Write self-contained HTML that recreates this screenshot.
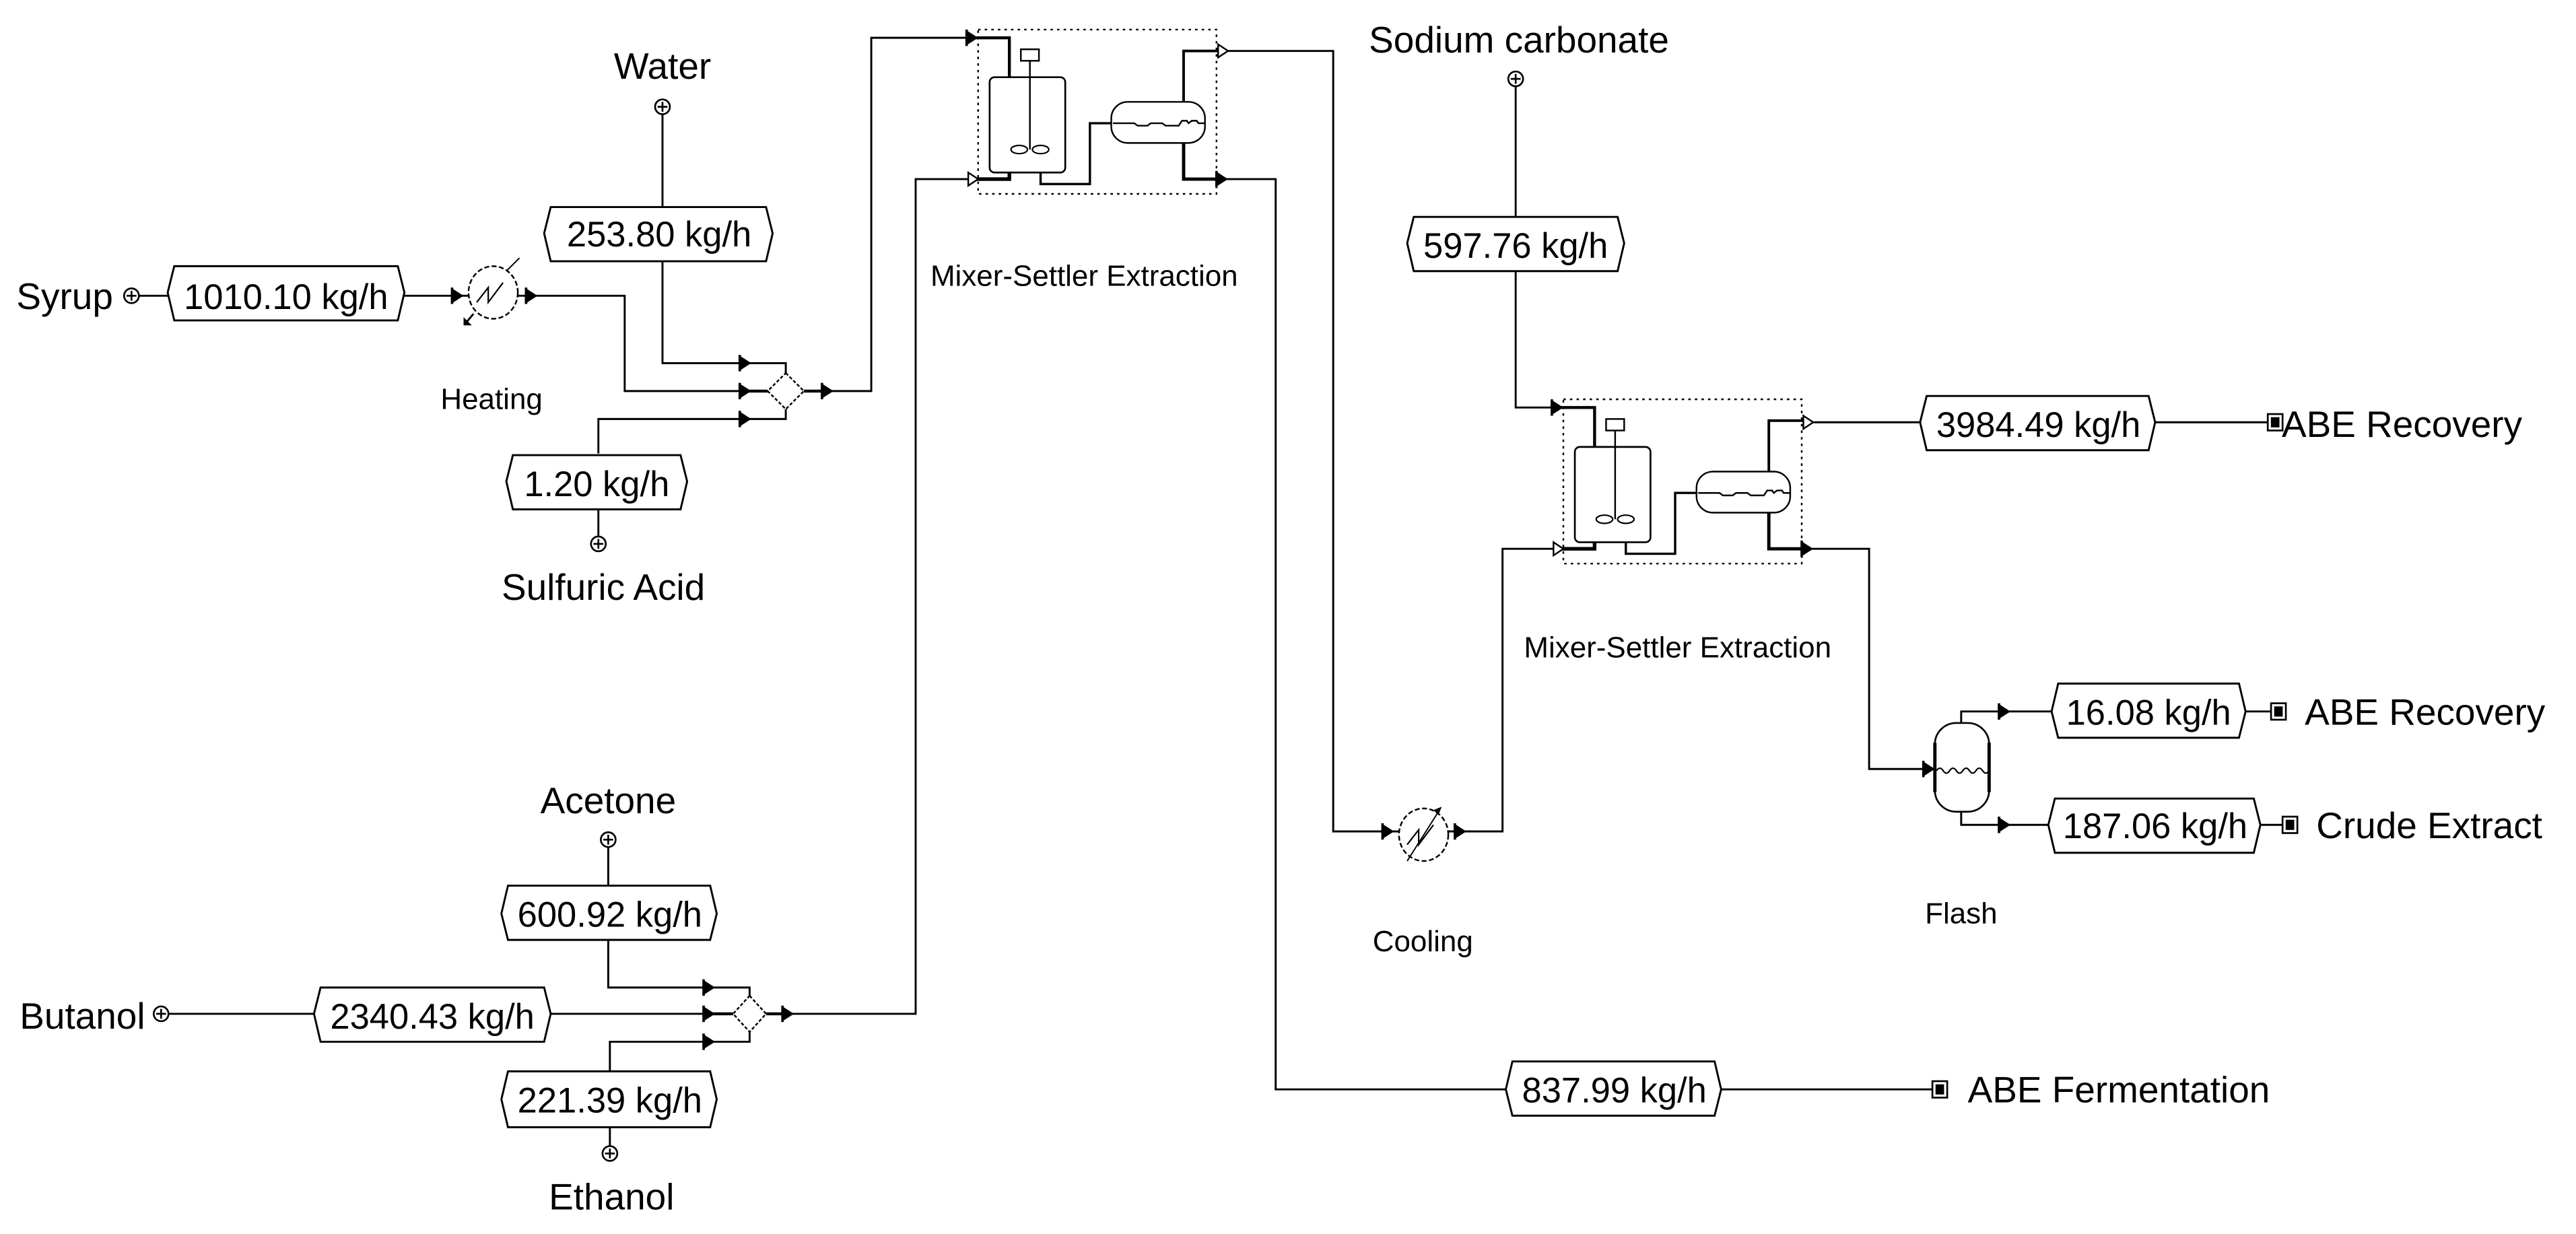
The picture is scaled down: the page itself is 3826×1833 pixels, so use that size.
<!DOCTYPE html>
<html><head><meta charset="utf-8"><style>
html,body{margin:0;padding:0;background:#fff;}
svg{display:block;}
text{font-family:"Liberation Sans",Arial,sans-serif;fill:#000;}
.big{font-size:22.5px;}
.box{font-size:21.5px;}
.sm{font-size:18px;}
</style></head><body>
<svg width="3826" height="1833" viewBox="0 0 1567 751" preserveAspectRatio="none" xmlns="http://www.w3.org/2000/svg">
<defs>
<g id="fa"><path d="M-7,-4.5 L0,0 L-7,4.5 Z" fill="#000"/><line x1="-7" y1="-5" x2="-7" y2="5" stroke="#000" stroke-width="1.5"/></g>
<g id="ha"><path d="M-6,-4 L0,0 L-6,4 Z" fill="#fff" stroke="#000" stroke-width="1"/></g>
<g id="src"><circle r="4.5" fill="#fff" stroke="#000" stroke-width="1.1"/><line x1="-3" y1="0" x2="3" y2="0" stroke="#000" stroke-width="1.1"/><line x1="0" y1="-3" x2="0" y2="3" stroke="#000" stroke-width="1.1"/></g>
<g id="snk"><rect x="-4.5" y="-5" width="9" height="10" fill="#fff" stroke="#000" stroke-width="1.1"/><rect x="-2.6" y="-3.1" width="5.2" height="6.2" fill="#000"/></g>
<g id="ms">
<rect x="0" y="0" width="145" height="100" fill="none" stroke="#000" stroke-width="1" stroke-dasharray="1.5,2.5"/>
<polyline points="-6,5 19,5 19,29" fill="none" stroke="#000" stroke-width="1.8"/>
<rect x="7" y="29" width="46" height="58" rx="3" fill="#fff" stroke="#000" stroke-width="1.1"/>
<rect x="26" y="12" width="11" height="7" fill="#fff" stroke="#000" stroke-width="1"/>
<line x1="31.5" y1="19" x2="31.5" y2="73" stroke="#000" stroke-width="1"/>
<ellipse cx="25" cy="73" rx="5" ry="2.5" fill="#fff" stroke="#000" stroke-width="0.9"/>
<ellipse cx="38" cy="73" rx="5" ry="2.5" fill="#fff" stroke="#000" stroke-width="0.9"/>
<polyline points="-6,91 19,91 19,87" fill="none" stroke="#000" stroke-width="2.2"/>
<polyline points="38,87 38,94 68,94 68,57 81,57" fill="none" stroke="#000" stroke-width="1.4"/>
<rect x="81" y="44" width="57" height="25" rx="10" fill="#fff" stroke="#000" stroke-width="1"/>
<polyline points="82,57 95,57 97,58.5 103,58.5 105,57 112,57 114,58.5 122,58.5 124,55.5 127,55.5 128,57 130,55.5 133,55.5 134,57 138,57" fill="none" stroke="#000" stroke-width="1"/>
<polyline points="125,44 125,13 150,13" fill="none" stroke="#000" stroke-width="1.6"/>
<polyline points="125,69 125,91 150,91" fill="none" stroke="#000" stroke-width="2"/>
</g>
<g id="hx"><ellipse rx="15" ry="16" fill="#fff" stroke="#000" stroke-width="1" stroke-dasharray="3,1.5"/><polyline points="-10,6 -3,-3 -3,6 6,-6" fill="none" stroke="#000" stroke-width="0.9"/></g>
</defs>

<g fill="none" stroke="#000" stroke-width="1.2">
<line x1="403" y1="69" x2="403" y2="126"/>
<polyline points="403,159 403,221 478,221 478,228"/>
<line x1="84" y1="180" x2="103" y2="180"/>
<line x1="245" y1="180" x2="285" y2="180"/>
<polyline points="315,180 380,180 380,238 467,238"/>
<polyline points="364,276 364,255 478,255 478,249"/>
<line x1="364" y1="310" x2="364" y2="327"/>
<polyline points="489,238 530,238 530,23 589,23"/>
<line x1="370" y1="515" x2="370" y2="539"/>
<polyline points="370,572 370,601 456,601 456,607"/>
<line x1="102" y1="617" x2="191" y2="617"/>
<line x1="335" y1="617" x2="446" y2="617"/>
<polyline points="371,652 371,634 456,634 456,628"/>
<line x1="371" y1="686" x2="371" y2="698"/>
<polyline points="466,617 557,617 557,109 589,109"/>
<polyline points="745,31 811,31 811,506 851,506"/>
<polyline points="745,109 776,109 776,663 916,663"/>
<line x1="1047" y1="663" x2="1176" y2="663"/>
<polyline points="881,506 914,506 914,334 945,334"/>
<line x1="922" y1="52" x2="922" y2="132"/>
<polyline points="922,165 922,248 945,248"/>
<line x1="1101" y1="257" x2="1168" y2="257"/>
<line x1="1311" y1="257" x2="1380" y2="257"/>
<polyline points="1101,334 1137,334 1137,468 1177,468"/>
<polyline points="1193,440 1193,433 1248,433"/>
<line x1="1366" y1="433" x2="1382" y2="433"/>
<polyline points="1193,494 1193,502 1246,502"/>
<line x1="1375" y1="502" x2="1389" y2="502"/>
</g>

<g stroke="#000" stroke-width="1.8"><line x1="455" y1="238" x2="467" y2="238"/><line x1="489" y1="238" x2="500" y2="238"/>
<line x1="432" y1="617" x2="446" y2="617"/><line x1="466" y1="617" x2="476" y2="617"/></g>
<path d="M478,227 L489,238 L478,249 L467,238 Z" fill="#fff" stroke="#000" stroke-width="1" stroke-dasharray="2,1.2"/>
<path d="M456,606 L466,617 L456,628 L446,617 Z" fill="#fff" stroke="#000" stroke-width="1" stroke-dasharray="2,1.2"/>
<use href="#fa" x="457" y="221"/><use href="#fa" x="457" y="238"/><use href="#fa" x="457" y="255"/><use href="#fa" x="507" y="238"/>
<use href="#fa" x="435" y="601"/><use href="#fa" x="435" y="617"/><use href="#fa" x="435" y="634"/><use href="#fa" x="483" y="617"/>

<use href="#ms" x="595" y="18"/>
<use href="#ms" x="951" y="243"/>
<use href="#fa" x="595" y="23"/><use href="#ha" x="595" y="109"/>
<use href="#ha" x="747" y="31"/><use href="#fa" x="747" y="109"/>
<use href="#fa" x="951" y="248"/><use href="#ha" x="951" y="334"/>
<use href="#ha" x="1103" y="257"/><use href="#fa" x="1103" y="334"/>

<use href="#hx" x="300" y="178"/>
<line x1="288" y1="191" x2="283" y2="197" stroke="#000" stroke-width="1.2"/><path d="M282,198 l0,-5 l5,5 z" fill="#000"/>
<line x1="308" y1="165" x2="316" y2="157" stroke="#000" stroke-width="0.8"/>
<use href="#fa" x="282" y="180"/><use href="#fa" x="327" y="180"/>
<use href="#hx" x="866" y="508"/>
<line x1="856" y1="524" x2="875" y2="494" stroke="#000" stroke-width="0.8"/><path d="M877,491 l-5,2 l3,3 z" fill="#000"/>
<use href="#fa" x="848" y="506"/><use href="#fa" x="892" y="506"/>

<rect x="1177" y="440" width="33" height="54" rx="13" fill="#fff" stroke="#000" stroke-width="1.1"/>
<line x1="1177" y1="452" x2="1177" y2="482" stroke="#000" stroke-width="2"/>
<line x1="1210" y1="452" x2="1210" y2="482" stroke="#000" stroke-width="2"/>
<path d="M1178,469 q2,-3 4,0 t4,0 t4,0 t4,0 t4,0 t4,0 t4,0 t4,0" fill="none" stroke="#000" stroke-width="0.9"/>
<use href="#fa" x="1177" y="468"/><use href="#fa" x="1223" y="433"/><use href="#fa" x="1223" y="502"/>

<use href="#src" x="403" y="65"/><use href="#src" x="80" y="180"/><use href="#src" x="364" y="331"/>
<use href="#src" x="370" y="511"/><use href="#src" x="98" y="617"/><use href="#src" x="371" y="702"/>
<use href="#src" x="922" y="48"/>
<use href="#snk" x="1384" y="257"/><use href="#snk" x="1386" y="433"/><use href="#snk" x="1393" y="502"/><use href="#snk" x="1180" y="663"/>

<g fill="#fff" stroke="#000" stroke-width="1.2">
<path d="M335,126 L466,126 L470,142 L466,159 L335,159 L331,142 Z"/>
<path d="M106,162 L242,162 L246,178 L242,195 L106,195 L102,178 Z"/>
<path d="M312,277 L414,277 L418,293 L414,310 L312,310 L308,293 Z"/>
<path d="M309,539 L432,539 L436,556 L432,572 L309,572 L305,556 Z"/>
<path d="M195,601 L331,601 L335,617 L331,634 L195,634 L191,617 Z"/>
<path d="M309,652 L432,652 L436,669 L432,686 L309,686 L305,669 Z"/>
<path d="M860,132 L984,132 L988,148 L984,165 L860,165 L856,148 Z"/>
<path d="M1172,241 L1307,241 L1311,257 L1307,274 L1172,274 L1168,257 Z"/>
<path d="M1252,416 L1362,416 L1366,433 L1362,449 L1252,449 L1248,433 Z"/>
<path d="M1250,486 L1371,486 L1375,502 L1371,519 L1250,519 L1246,502 Z"/>
<path d="M920,646 L1043,646 L1047,663 L1043,679 L920,679 L916,663 Z"/>
</g>
<g class="box" text-anchor="middle">
<text x="401" y="150">253.80 kg/h</text>
<text x="174" y="188">1010.10 kg/h</text>
<text x="363" y="302">1.20 kg/h</text>
<text x="371" y="564">600.92 kg/h</text>
<text x="263" y="626">2340.43 kg/h</text>
<text x="371" y="677">221.39 kg/h</text>
<text x="922" y="157">597.76 kg/h</text>
<text x="1240" y="266">3984.49 kg/h</text>
<text x="1307" y="441">16.08 kg/h</text>
<text x="1311" y="510">187.06 kg/h</text>
<text x="982" y="671">837.99 kg/h</text>
</g>
<g class="big">
<text x="403" y="48" text-anchor="middle">Water</text>
<text x="10" y="188">Syrup</text>
<text x="367" y="365" text-anchor="middle">Sulfuric Acid</text>
<text x="370" y="495" text-anchor="middle">Acetone</text>
<text x="12" y="626">Butanol</text>
<text x="372" y="736" text-anchor="middle">Ethanol</text>
<text x="924" y="32" text-anchor="middle">Sodium carbonate</text>
<text x="1388" y="266">ABE Recovery</text>
<text x="1402" y="441">ABE Recovery</text>
<text x="1409" y="510">Crude Extract</text>
<text x="1197" y="671">ABE Fermentation</text>
</g>
<g class="sm">
<text x="268" y="249">Heating</text>
<text x="566" y="174">Mixer-Settler Extraction</text>
<text x="927" y="400">Mixer-Settler Extraction</text>
<text x="835" y="579">Cooling</text>
<text x="1171" y="562">Flash</text>
</g>
</svg>
</body></html>
